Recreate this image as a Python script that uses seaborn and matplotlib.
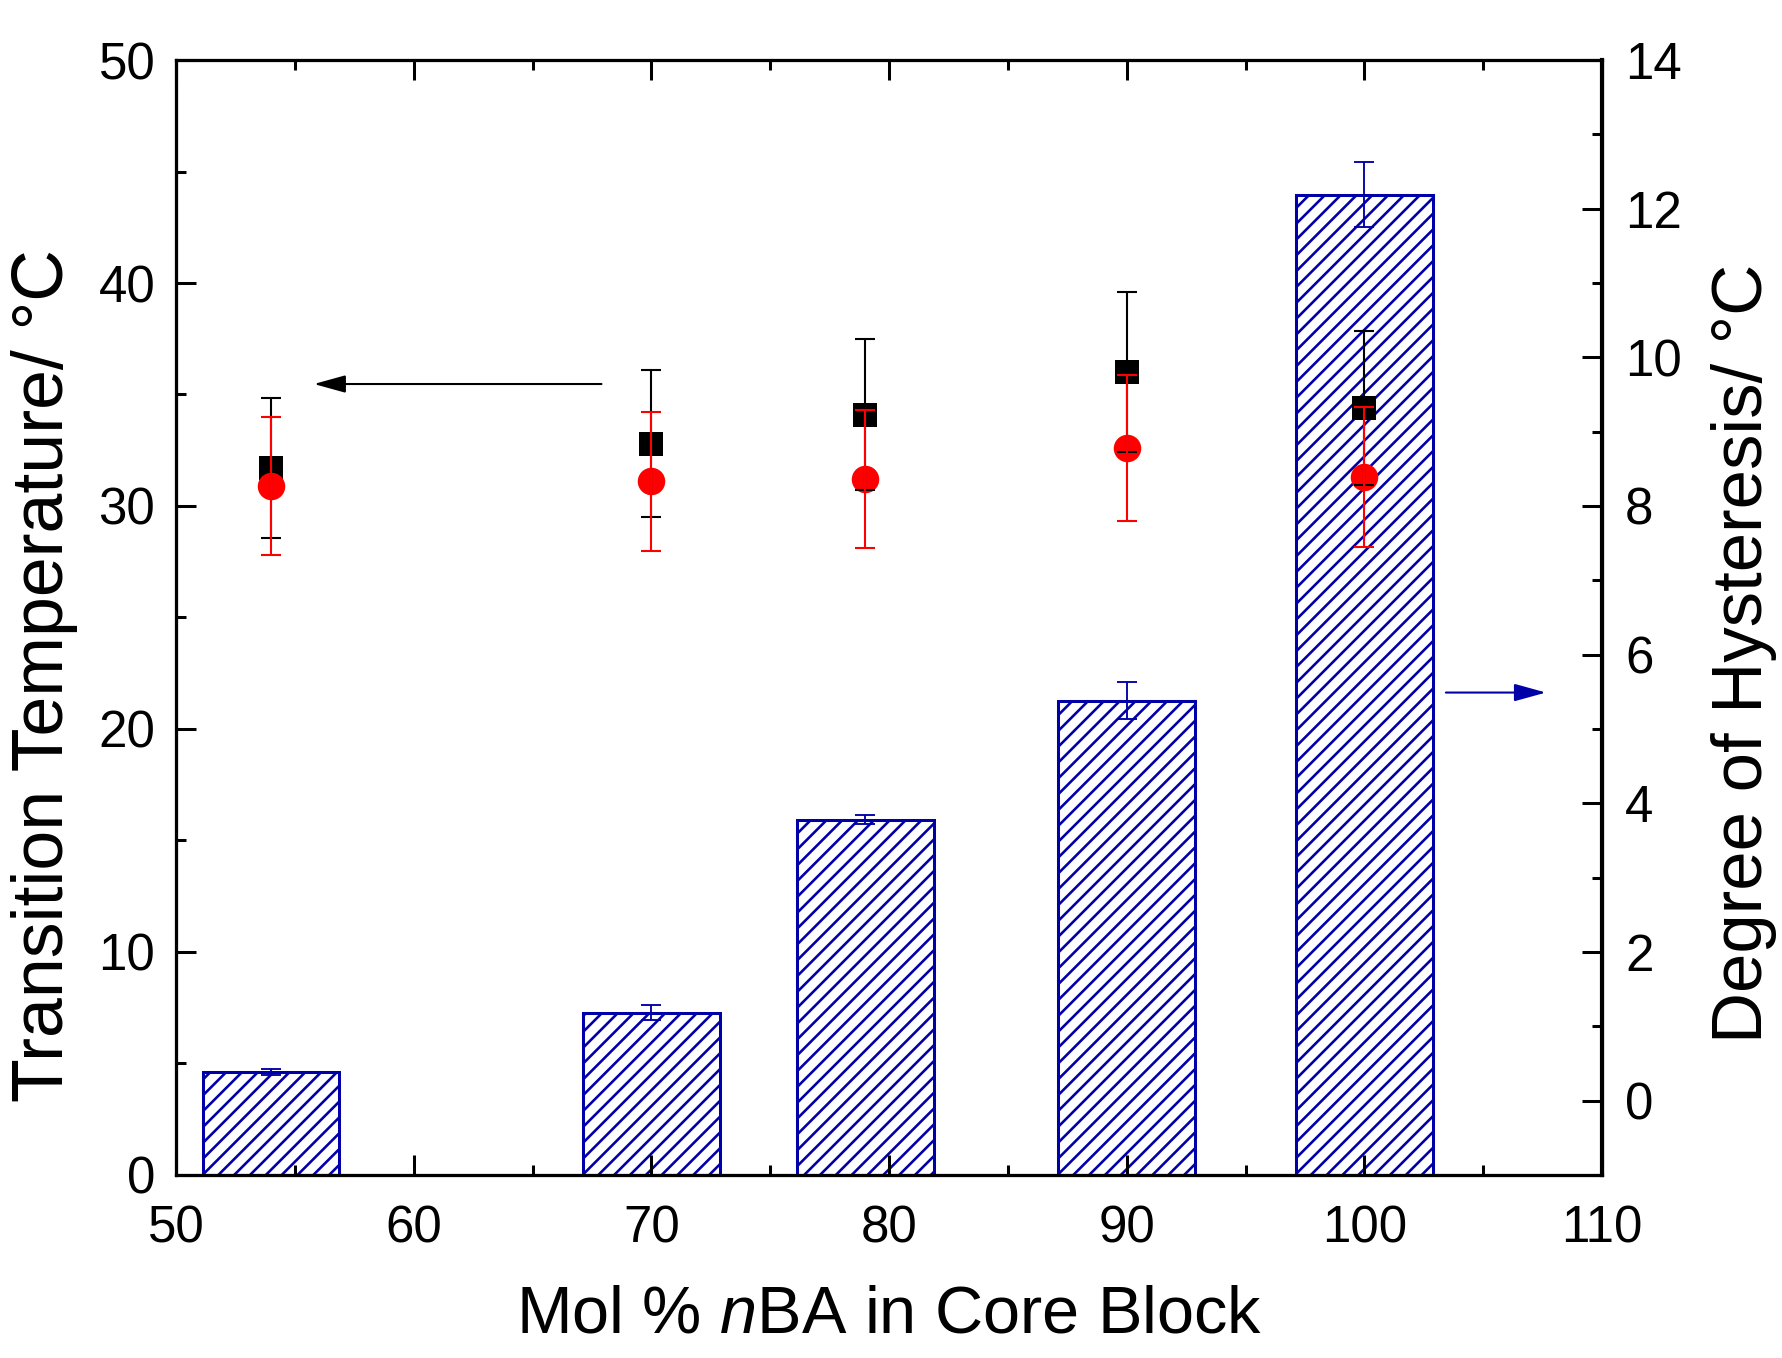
import numpy as np
import pandas as pd
import matplotlib
matplotlib.use("Agg")
import matplotlib.pyplot as plt
from matplotlib.ticker import MultipleLocator
import seaborn as sns

# ---------------- data ----------------
mol_nba = [54, 70, 79, 90, 100]
t_heat = [31.7, 32.8, 34.1, 36.0, 34.4]          # black squares
t_heat_err = [3.15, 3.3, 3.4, 3.6, 3.45]
t_cool = [30.9, 31.1, 31.2, 32.6, 31.3]          # red circles
t_cool_err = [3.1, 3.1, 3.1, 3.27, 3.15]
hysteresis = [0.38, 1.18, 3.78, 5.38, 12.19]     # bars (right axis)
hysteresis_err = [0.04, 0.10, 0.06, 0.25, 0.44]

BLUE = "#0000A8"
RED = "#FF0000"

DPI = 190
K = 150 / DPI   # scale for sizes given in points (tuned at 150 dpi)

sns.set_style("ticks")
plt.rcParams["font.family"] = ["Liberation Sans", "DejaVu Sans"]
plt.rcParams["mathtext.fontset"] = "custom"
plt.rcParams["mathtext.rm"] = "Liberation Sans"
plt.rcParams["mathtext.it"] = "Liberation Sans:italic"
plt.rcParams["hatch.linewidth"] = 1.25 * K
plt.rcParams["hatch.color"] = BLUE
for key in ["text.color", "axes.labelcolor", "xtick.color", "ytick.color", "axes.edgecolor"]:
    plt.rcParams[key] = "black"

df = pd.DataFrame({"x": mol_nba, "heat": t_heat, "cool": t_cool})

fig = plt.figure(figsize=(1782 / DPI, 1358 / DPI), dpi=DPI)
ax = fig.add_axes([0.0988, 0.1348, 0.8002, 0.8210])
ax2 = ax.twinx()
ax.set_zorder(ax2.get_zorder() + 1)
ax.patch.set_visible(False)

# bars on right axis, starting at the bottom of the axis
bottom = -1
ax2.bar(mol_nba, np.array(hysteresis) - bottom, bottom=bottom, width=5.75,
        facecolor="white", edgecolor=BLUE, hatch="////", linewidth=1.45 * K, zorder=2)
ax2.errorbar(mol_nba, hysteresis, yerr=hysteresis_err, fmt="none", ecolor=BLUE,
             elinewidth=0.9 * K, capsize=5 * K, capthick=0.9 * K, zorder=3)

# points on left axis
sns.scatterplot(data=df, x="x", y="heat", marker="s", s=(11.5 * K) ** 2, color="black",
                linewidth=0, ax=ax, zorder=3)
sns.scatterplot(data=df, x="x", y="cool", marker="o", s=(13.2 * K) ** 2, color=RED,
                linewidth=0, ax=ax, zorder=3)
ax.errorbar(mol_nba, t_heat, yerr=t_heat_err, fmt="none", ecolor="black",
            elinewidth=1.0 * K, capsize=5 * K, capthick=1.0 * K, zorder=4)
ax.errorbar(mol_nba, t_cool, yerr=t_cool_err, fmt="none", ecolor=RED,
            elinewidth=1.0 * K, capsize=5 * K, capthick=1.0 * K, zorder=5)

# arrows
style = "-|>,head_length=%.2f,head_width=%.2f" % (13 * K, 3.6 * K)
ax.annotate("", xy=(55.8, 35.47), xytext=(67.9, 35.47),
            arrowprops=dict(arrowstyle=style, mutation_scale=1, color="black",
                            lw=1.0 * K, shrinkA=0, shrinkB=0))
ax2.annotate("", xy=(107.64, 5.49), xytext=(103.43, 5.49),
             arrowprops=dict(arrowstyle=style, mutation_scale=1, color=BLUE,
                             lw=1.0 * K, shrinkA=0, shrinkB=0))

# axes limits and ticks
ax.set_xlim(50, 110)
ax.set_ylim(0, 50)
ax2.set_ylim(-1, 14)
ax.xaxis.set_major_locator(MultipleLocator(10))
ax.xaxis.set_minor_locator(MultipleLocator(5))
ax.yaxis.set_major_locator(MultipleLocator(10))
ax.yaxis.set_minor_locator(MultipleLocator(5))
ax2.yaxis.set_major_locator(MultipleLocator(2))
ax2.yaxis.set_minor_locator(MultipleLocator(1))

ax.tick_params(axis="x", which="both", direction="in", top=True, bottom=True,
               labelsize=24.5 * K, pad=14 * K)
ax.tick_params(axis="y", which="both", direction="in", left=True, right=False,
               labelsize=24.5 * K, pad=10 * K)
ax2.tick_params(axis="y", which="both", direction="in", right=True, left=False,
                labelsize=24.5 * K, pad=11 * K)
for a in (ax, ax2):
    a.tick_params(which="major", length=9.6 * K, width=1.45 * K)
    a.tick_params(which="minor", length=4.8 * K, width=1.45 * K)
    for sp in a.spines.values():
        sp.set_linewidth(1.5 * K)
        sp.set_color("black")
ax2.spines["right"].set_linewidth(2.0 * K)
ax2.tick_params(axis="x", which="both", bottom=False, top=False)

ax.set_xlabel("Mol % $\\mathit{n}$BA in Core Block", fontsize=32 * K)
ax.set_ylabel("Transition Temperature/ °C", fontsize=34.4 * K)
ax2.set_ylabel("Degree of Hysteresis/ °C", fontsize=34 * K)
ax.xaxis.set_label_coords(0.5, -0.0987)
ax.yaxis.set_label_coords(-0.0687, 0.4475)
ax2.yaxis.set_label_coords(1.0766, 0.468)

fig.savefig("out.png", dpi=DPI)
